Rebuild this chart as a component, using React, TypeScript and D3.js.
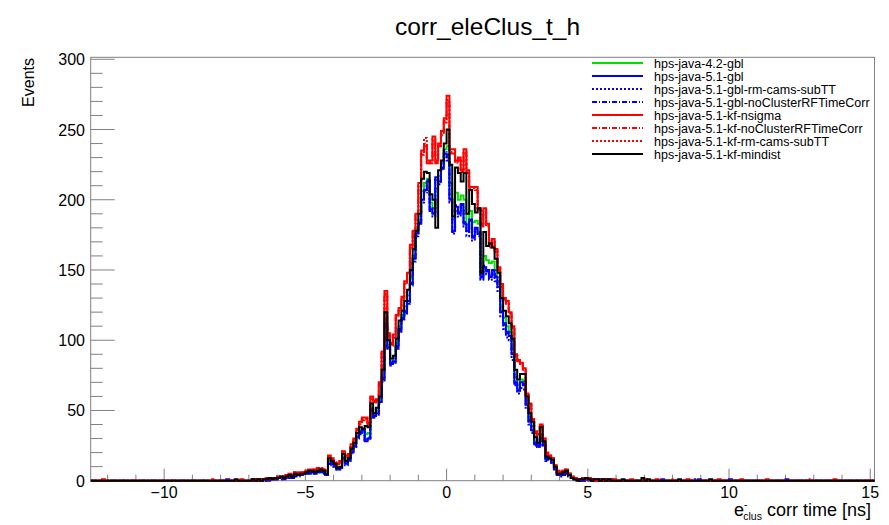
import React from "react";
import * as d3 from "d3";

const W = 889;
const H = 525;

const TITLE = "corr_eleClus_t_h";
const SERIES_NAMES = [
  "hps-java-4.2-gbl",
  "hps-java-5.1-gbl",
  "hps-java-5.1-gbl-rm-cams-subTT",
  "hps-java-5.1-gbl-noClusterRFTimeCorr",
  "hps-java-5.1-kf-nsigma",
  "hps-java-5.1-kf-noClusterRFTimeCorr",
  "hps-java-5.1-kf-rm-cams-subTT",
  "hps-java-5.1-kf-mindist",
];
const SERIES_COLORS = ["#00e000", "#0000ff", "#0000ff", "#0000ff", "#ff0000", "#ff0000", "#ff0000", "#000000"];
const SERIES_DASH = ["", "", "2,2", "5,2,1,2", "", "5,2,1,2", "2,2", ""];

const X_TICKS = [-10, -5, 0, 5, 10, 15];
const Y_TICKS = [0, 50, 100, 150, 200, 250, 300];

// histogram binning (bin width 0.1 ns)
const HIST_MIN = -12.6;
const HIST_MAX = 15.15;
const BIN_W = 0.1;
const CORE_START = -7.0; // left edge of first core bin

// core bins -7.0 .. 5.9 (130 bins)
const green42gbl = [
  0,0,1,0,1,0,1,1,1,2, 2,2,2,3,3,3,4,4,5,5, 6,6,6,6,7,7,6,5,14,13,
  11,9,10,17,13,15,21,26,32,36, 36,33,34,52,47,50,58,75,115,97,
  85,87,98,110,118,124,132,145,160,177, 186,206,212,215,198,194,208,217,226,236,
  238,212,186,205,200,203,200,182,192,184, 185,183,147,160,157,155,156,150,142,124,
  116,110,106,95,74,68,72,71,57,45, 39,28,26,33,27,16,16,14,9,5,
  5,5,6,4,2,1,1,1,0,1, 1,1,0,1,0,0,1,0,0,0,
];
const blue51gbl = [
  0,0,0,1,0,1,0,1,2,1, 2,2,1,3,3,2,4,4,4,5, 5,6,6,5,7,6,6,4,12,13,
  10,8,9,16,12,15,20,25,31,34, 36,28,30,50,46,48,56,72,112,95,
  83,85,95,108,115,120,128,140,158,176, 183,200,207,213,193,190,216,213,223,233,
  230,200,178,195,190,197,183,178,185,174, 180,176,145,152,150,145,150,145,138,120,
  112,105,103,90,70,64,70,68,54,42, 36,26,25,30,26,15,17,13,8,4,
  4,5,6,4,2,1,1,0,1,1, 2,0,1,0,1,0,0,0,1,0,
];
const blueRmCams = [
  0,0,1,0,0,1,1,0,1,2, 1,2,2,2,3,3,3,4,5,4, 5,5,6,6,6,7,5,5,11,12,
  11,8,8,15,13,14,19,24,30,35, 35,29,31,48,45,49,55,70,110,96,
  82,84,94,106,116,119,126,141,156,174, 184,198,206,210,195,188,214,211,221,231,
  228,198,176,192,188,194,181,174,183,171, 177,174,143,150,147,143,147,142,135,117,
  108,102,100,86,68,62,66,65,52,40, 34,25,24,29,25,14,16,12,8,4,
  3,5,5,3,2,1,0,1,1,0, 1,1,0,1,0,0,1,0,0,0,
];
const blueNoRF = [
  0,1,0,0,1,0,1,1,1,1, 2,1,2,3,2,3,4,3,4,5, 5,6,5,6,6,6,7,4,12,12,
  10,9,9,16,11,16,20,24,31,33, 37,29,30,51,45,47,57,73,111,94,
  84,84,96,107,114,121,127,139,159,175, 182,202,205,214,192,191,215,214,222,235,
  232,201,177,196,191,196,184,177,186,173, 179,177,144,153,149,146,149,146,137,121,
  111,106,102,91,69,65,69,69,53,43, 35,27,24,31,25,16,16,13,9,4,
  4,4,6,5,2,1,1,0,0,1, 1,1,1,0,0,1,0,0,0,0,
];
const redNsigma = [
  0,0,1,0,1,1,2,1,2,2, 3,2,3,4,5,4,6,5,6,6, 7,8,7,8,9,8,8,7,18,15,
  13,12,14,21,18,19,26,30,37,42, 45,45,40,60,57,58,70,92,135,105,
  98,104,118,123,131,142,148,168,178,190, 212,235,238,226,228,245,228,240,249,258,
  274,236,236,228,230,221,236,221,209,209, 209,194,183,194,183,168,172,165,152,140,
  130,128,120,110,90,86,84,80,62,55, 44,35,33,40,30,20,18,16,11,7,
  6,7,8,5,3,2,1,1,2,1, 2,1,0,1,0,0,1,0,0,1,
];
const redNoRF = [
  0,1,0,1,0,1,1,2,2,1, 2,3,3,3,4,5,5,6,5,6, 7,7,8,7,8,9,8,6,17,16,
  13,11,13,20,17,18,25,29,36,41, 43,44,41,58,55,57,68,90,132,104,
  97,102,116,121,130,140,146,165,176,188, 209,232,240,228,226,242,226,238,246,255,
  270,233,233,226,228,219,233,219,207,207, 206,193,181,192,181,166,170,163,150,138,
  128,126,119,108,89,85,83,79,61,54, 43,34,32,39,29,19,18,15,11,6,
  6,7,7,5,3,2,1,1,1,1, 2,1,1,0,0,1,0,0,1,0,
];
const redRmCams = [
  0,0,1,1,0,1,2,1,1,2, 3,2,3,4,4,4,6,5,5,6, 7,7,8,8,8,8,7,7,17,15,
  12,12,13,21,17,19,25,29,36,40, 44,44,40,59,56,57,69,91,133,103,
  96,103,117,122,129,141,147,166,177,189, 210,233,244,227,227,243,227,239,247,256,
  271,234,234,227,229,220,234,220,208,208, 207,193,182,193,182,167,171,164,151,139,
  129,127,119,109,89,85,83,79,61,54, 43,35,32,39,30,19,17,16,11,7,
  6,6,8,5,3,2,1,1,2,1, 1,1,0,1,0,0,1,0,0,0,
];
const blackMindist = [
  0,1,0,1,0,1,1,2,1,2, 2,3,2,3,4,3,5,4,5,5, 6,7,7,6,7,8,7,5,16,14,
  12,9,10,19,14,16,23,27,34,38, 37,39,38,55,48,52,60,79,120,100,
  87,89,101,114,121,128,136,150,165,178, 190,215,220,219,204,200,180,221,228,240,
  250,225,188,223,219,213,219,190,207,197, 191,194,148,177,167,169,166,158,148,130,
  121,117,112,101,79,72,76,76,60,48, 42,31,27,38,28,17,16,15,10,5,
  5,6,7,4,2,1,0,1,1,2, 1,0,1,1,0,1,0,1,0,0,
];

// sparse tail bins: [series index, bin left edge, count]
const TAIL_BINS: [number, number, number][] = [
  [4, -12.2, 1], [5, -8.3, 1], [1, -7.8, 1], [7, -7.5, 1], [4, -7.3, 1],
  [7, 6.2, 1], [4, 6.5, 1], [7, 6.9, 2], [5, 7.0, 1], [7, 7.1, 1], [4, 7.4, 1],
  [1, 7.6, 1], [6, 7.9, 1], [7, 8.2, 1], [4, 8.5, 1], [2, 8.7, 1], [1, 8.9, 1],
  [7, 9.3, 1], [4, 9.6, 1], [1, 10.0, 1], [5, 10.4, 1], [4, 11.3, 1], [1, 12.0, 1],
  [6, 12.8, 1], [4, 13.7, 1],
];

const CORE = [green42gbl, blue51gbl, blueRmCams, blueNoRF, redNsigma, redNoRF, redRmCams, blackMindist];

const FONT = "'Liberation Sans', Arial, Helvetica, sans-serif";

export default function App() {
  const m = { left: 90.7, right: 874.5, top: 57.3, bottom: 480.7 };
  const x = d3.scaleLinear().domain([HIST_MIN, HIST_MAX]).range([m.left, m.right]);
  const y = d3.scaleLinear().domain([0, 301.4]).range([m.bottom, m.top]);

  const nBins = Math.round((HIST_MAX - HIST_MIN) / BIN_W);
  const coreOffset = Math.round((CORE_START - HIST_MIN) / BIN_W);

  const hists = CORE.map((core, si) => {
    const counts = new Array(nBins).fill(0);
    core.forEach((c, i) => {
      counts[coreOffset + i] = c;
    });
    TAIL_BINS.filter((t) => t[0] === si).forEach((t) => {
      const idx = Math.round((t[1] - HIST_MIN) / BIN_W);
      if (idx >= 0 && idx < nBins) counts[idx] = t[2];
    });
    const pts: [number, number][] = counts.map((c, i) => [HIST_MIN + i * BIN_W, c]);
    pts.push([HIST_MIN + nBins * BIN_W, counts[nBins - 1]]);
    return pts;
  });

  const line = d3
    .line<[number, number]>()
    .x((d) => x(d[0]))
    .y((d) => y(d[1]))
    .curve(d3.curveStepAfter);

  const xMinor = d3.range(-12, 16, 1).filter((v) => !X_TICKS.includes(v));
  const yMinor = d3.range(0, 301, 10).filter((v) => !Y_TICKS.includes(v));

  const frameColor = "#808080";
  const legX0 = 592;
  const legX1 = 643;
  const legTextX = 654;
  const legY0 = 63;
  const legDy = 13;

  return (
    <svg width={W} height={H} style={{ position: "absolute", left: 0, top: 0, background: "#fff" }} fontFamily={FONT}>
      <rect x={0} y={0} width={W} height={H} fill="#fff" />
      <defs>
        <clipPath id="plotclip">
          <rect x={m.left} y={m.top - 2} width={m.right - m.left} height={m.bottom - m.top + 4} />
        </clipPath>
      </defs>

      {/* title */}
      <text x={487.5} y={35} textAnchor="middle" fontSize={24.5} fill="#000">
        {TITLE}
      </text>

      {/* frame */}
      <rect x={m.left} y={m.top} width={m.right - m.left} height={m.bottom - m.top} fill="none" stroke={frameColor} strokeWidth={1} />

      {/* y ticks */}
      {Y_TICKS.map((v) => (
        <g key={"yt" + v}>
          <line x1={m.left} x2={m.left + 24} y1={y(v)} y2={y(v)} stroke={frameColor} strokeWidth={1} />
          <text x={85} y={y(v) + 6} textAnchor="end" fontSize={16} fill="#000">
            {v}
          </text>
        </g>
      ))}
      {yMinor.map((v) => (
        <line key={"ym" + v} x1={m.left} x2={m.left + 12} y1={y(v)} y2={y(v)} stroke={frameColor} strokeWidth={1} />
      ))}

      {/* x ticks */}
      {X_TICKS.map((v) => (
        <g key={"xt" + v}>
          <line x1={x(v)} x2={x(v)} y1={m.bottom} y2={m.bottom - 12} stroke={frameColor} strokeWidth={1} />
          <text x={x(v)} y={498} textAnchor="middle" fontSize={16} fill="#000">
            {v < 0 ? "\u2212" + Math.abs(v) : String(v)}
          </text>
        </g>
      ))}
      {xMinor.map((v) => (
        <line key={"xm" + v} x1={x(v)} x2={x(v)} y1={m.bottom} y2={m.bottom - 6} stroke={frameColor} strokeWidth={1} />
      ))}

      {/* histograms */}
      <g clipPath="url(#plotclip)">
        {hists.map((pts, si) => (
          <path
            key={"h" + si}
            d={line(pts) || ""}
            fill="none"
            stroke={SERIES_COLORS[si]}
            strokeWidth={2}
            strokeDasharray={SERIES_DASH[si] || undefined}
          />
        ))}
      </g>

      {/* axis titles */}
      <text x={871} y={516} textAnchor="end" fontSize={18} fill="#000">
        e
        <tspan dy={-8} fontSize={10}>
          -
        </tspan>
        <tspan dx={-4} dy={12} fontSize={10.5}>
          clus
        </tspan>
        <tspan dy={-4}> corr time [ns]</tspan>
      </text>
      <text transform="translate(33.5,58) rotate(-90)" textAnchor="end" fontSize={16} fill="#000">
        Events
      </text>

      {/* legend */}
      <rect x={583} y={58} width={290} height={107} fill="#fff" />
      {SERIES_NAMES.map((name, i) => {
        const ly = legY0 + i * legDy;
        return (
          <g key={"lg" + i}>
            <line
              x1={legX0}
              x2={legX1}
              y1={ly}
              y2={ly}
              stroke={SERIES_COLORS[i]}
              strokeWidth={2}
              strokeDasharray={SERIES_DASH[i] || undefined}
            />
            <text x={legTextX} y={ly + 4.5} fontSize={12.5} fill="#000">
              {name}
            </text>
          </g>
        );
      })}
    </svg>
  );
}
